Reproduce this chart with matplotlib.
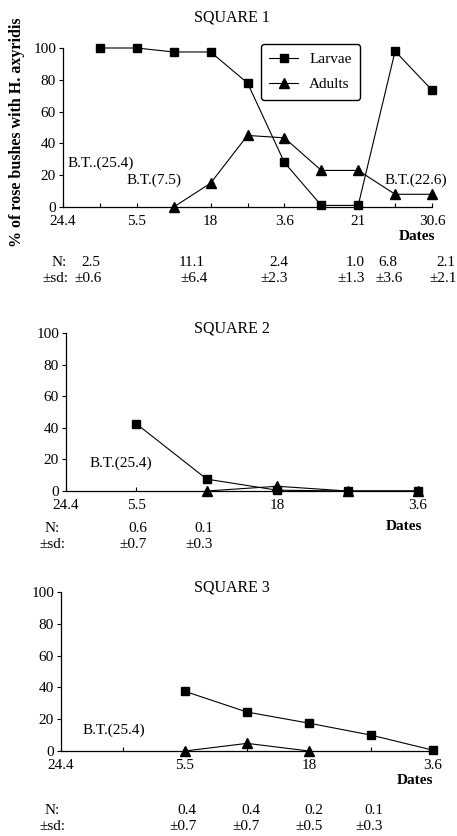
import matplotlib
matplotlib.use("Agg")
import matplotlib.pyplot as plt

W, H = 457, 836
plt.rcParams["font.family"] = ["Liberation Serif", "DejaVu Serif"]
plt.rcParams["font.size"] = 11

# ---- Square 1 ----
sq1_ticks     = ["24.4", "", "5.5", "", "18", "", "3.6", "", "21", "", "30.6"]
sq1_larvae_x  = [1, 2, 3, 4, 5, 6, 7, 8, 9, 10]
sq1_larvae    = [100, 100, 97.5, 97.5, 78, 28, 1, 1, 98, 73.5]
sq1_adults_x  = [3, 4, 5, 6, 7, 8, 9, 10]
sq1_adults    = [0, 15, 45, 43.5, 23, 23, 8, 8]
sq1_n         = ["2.5", "11.1", "2.4", "1.0", "6.8", "2.1"]
sq1_sd        = ["±0.6", "±6.4", "±2.3", "±1.3", "±3.6", "±2.1"]

# ---- Square 2 ----
sq2_ticks     = ["24.4", "5.5", "", "18", "", "3.6"]
sq2_larvae_x  = [1, 2, 3, 4, 5]
sq2_larvae    = [42.5, 7.5, 0.5, 0, 0]
sq2_adults_x  = [2, 3, 4, 5]
sq2_adults    = [0, 3, 0, 0]
sq2_n         = ["0.6", "0.1"]
sq2_sd        = ["±0.7", "±0.3"]

# ---- Square 3 ----
sq3_ticks     = ["24.4", "", "5.5", "", "18", "", "3.6"]
sq3_larvae_x  = [2, 3, 4, 5, 6]
sq3_larvae    = [37.5, 24.5, 17.5, 10, 0.5]
sq3_adults_x  = [2, 3, 4]
sq3_adults    = [0, 4.8, 0]
sq3_n         = ["0.4", "0.4", "0.2", "0.1"]
sq3_sd        = ["±0.7", "±0.7", "±0.5", "±0.3"]


def fx(x):
    return x / W


def fy(y):
    return 1 - y / H


def axes_box(left, top, right, bottom):
    return [fx(left), fy(bottom), fx(right) - fx(left), fy(top) - fy(bottom)]


def draw_panel(fig, box, ticks, lx, ly, ax_, ay):
    ax = fig.add_axes(box)
    l1, = ax.plot(lx, ly, color="black", lw=0.8, marker="s", ms=6, clip_on=False, zorder=3)
    l2, = ax.plot(ax_, ay, color="black", lw=0.8, marker="^", ms=6.5, clip_on=False, zorder=3)
    ax.set_xlim(0, len(ticks) - 1)
    ax.set_ylim(0, 100)
    ax.set_xticks(range(len(ticks)))
    ax.set_xticklabels(ticks)
    ax.set_yticks(range(0, 101, 20))
    ax.tick_params(axis="x", direction="in", length=3, width=0.8, pad=5.5)
    ax.tick_params(axis="y", direction="out", length=3, width=0.8, pad=2)
    for s in ["top", "right"]:
        ax.spines[s].set_visible(False)
    for s in ["left", "bottom"]:
        ax.spines[s].set_linewidth(0.9)
    return ax, l1, l2


def row(fig, y, label, label_right, values, rights):
    fig.text(fx(label_right), fy(y), label, ha="right", va="center")
    for v, r in zip(values, rights):
        fig.text(fx(r), fy(y), v, ha="right", va="center")


fig = plt.figure(figsize=(W / 100, H / 100), dpi=100)

# Square 1
ax1, h1, h2 = draw_panel(fig, axes_box(63, 48, 432, 207), sq1_ticks,
                         sq1_larvae_x, sq1_larvae, sq1_adults_x, sq1_adults)
fig.text(fx(232), fy(18), "SQUARE 1", ha="center", va="center", fontsize=11.5)
fig.text(fx(68), fy(163), "B.T..(25.4)", ha="left", va="center")
fig.text(fx(127), fy(180), "B.T.(7.5)", ha="left", va="center")
fig.text(fx(385), fy(180), "B.T.(22.6)", ha="left", va="center")
fig.text(fx(435), fy(237), "Dates", ha="right", va="center", fontweight="bold")
row(fig, 262, "N:", 67, sq1_n, [100, 205, 288, 365, 397, 455])
row(fig, 278, "±sd:", 68, sq1_sd, [102, 208, 288, 365, 403, 457])
ax1.legend([h1, h2], ["Larvae", "Adults"], loc="upper left",
           bbox_to_anchor=(fx(261), fy(44)), bbox_transform=fig.transFigure,
           borderaxespad=0, frameon=True, fancybox=True, edgecolor="black",
           framealpha=1, handlelength=1.9, handletextpad=0.7,
           borderpad=0.55, labelspacing=0.75, fontsize=11)
fig.text(fx(17), fy(132), "% of rose bushes with H. axyridis", rotation=90,
         ha="center", va="center", fontweight="bold", fontsize=11.5)

# Square 2
draw_panel(fig, axes_box(66, 333, 418, 491), sq2_ticks,
           sq2_larvae_x, sq2_larvae, sq2_adults_x, sq2_adults)
fig.text(fx(232), fy(328), "SQUARE 2", ha="center", va="center", fontsize=11.5)
fig.text(fx(90), fy(463), "B.T.(25.4)", ha="left", va="center")
fig.text(fx(422), fy(527), "Dates", ha="right", va="center", fontweight="bold")
row(fig, 529, "N:", 60, sq2_n, [147, 213])
row(fig, 545, "±sd:", 65, sq2_sd, [147, 213])

# Square 3
draw_panel(fig, axes_box(61, 592, 433, 751), sq3_ticks,
           sq3_larvae_x, sq3_larvae, sq3_adults_x, sq3_adults)
fig.text(fx(232), fy(587), "SQUARE 3", ha="center", va="center", fontsize=11.5)
fig.text(fx(83), fy(730), "B.T.(25.4)", ha="left", va="center")
fig.text(fx(433), fy(780), "Dates", ha="right", va="center", fontweight="bold")
row(fig, 810, "N:", 60, sq3_n, [196, 260, 323, 383])
row(fig, 827, "±sd:", 65, sq3_sd, [197, 260, 323, 383])

fig.savefig("out.png", dpi=100)
